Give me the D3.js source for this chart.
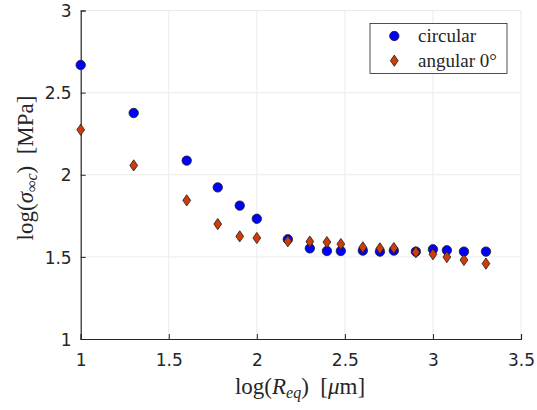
<!DOCTYPE html>
<html>
<head>
<meta charset="utf-8">
<script src="https://cdn.jsdelivr.net/npm/d3@7"></script>
<style>
  body { margin: 0; background: #fff; }
</style>
</head>
<body>
<div id="chart"></div>
<script>
// log10 of R_eq (um)
const logR = [1, 1.301, 1.602, 1.778, 1.903, 2, 2.176, 2.301, 2.398, 2.477,
              2.602, 2.699, 2.778, 2.903, 3, 3.079, 3.176, 3.301];
const circular = [2.668, 2.376, 2.086, 1.923, 1.812, 1.732, 1.607, 1.552, 1.536, 1.536,
                  1.538, 1.532, 1.538, 1.532, 1.546, 1.540, 1.532, 1.532];
const angular0 = [2.274, 2.057, 1.844, 1.700, 1.625, 1.615, 1.595, 1.593, 1.590, 1.578,
                  1.558, 1.552, 1.554, 1.528, 1.516, 1.499, 1.481, 1.459];
const xTicks = [1, 1.5, 2, 2.5, 3, 3.5];
const yTicks = [1, 1.5, 2, 2.5, 3];

const W = 537, H = 410;
const plotL = 80.7, plotR = 521, plotT = 10.5, plotB = 339;

const blue = "#0000ff", orange = "#cf3c0a";
const ink = "#262626";

const svg = d3.select("#chart").append("svg")
    .attr("width", W)
    .attr("height", H);

const x = d3.scaleLinear().domain([1, 3.5]).range([plotL, plotR]);
const y = d3.scaleLinear().domain([1, 3]).range([plotB, plotT]);

//grid
svg.append("g").selectAll("line").data(xTicks.slice(1)).join("line")
    .attr("x1", d => x(d)).attr("x2", d => x(d))
    .attr("y1", plotT).attr("y2", plotB)
    .attr("stroke", "#ebebeb").attr("stroke-width", 1);
svg.append("g").selectAll("line").data(yTicks.slice(1)).join("line")
    .attr("x1", plotL).attr("x2", plotR)
    .attr("y1", d => y(d)).attr("y2", d => y(d))
    .attr("stroke", "#ebebeb").attr("stroke-width", 1);

//axes (matlab style, ticks inside)
const xAxis = svg.append("g")
    .attr("transform", `translate(0,${plotB})`)
    .call(d3.axisBottom(x).tickValues(xTicks).tickSize(-5).tickPadding(15).tickFormat(d3.format("")));
const yAxis = svg.append("g")
    .attr("transform", `translate(${plotL},0)`)
    .call(d3.axisLeft(y).tickValues(yTicks).tickSize(-5).tickPadding(9).tickFormat(d3.format("")));

[xAxis, yAxis].forEach(a => {
    a.select(".domain").attr("stroke", ink).attr("stroke-width", 1.2);
    a.selectAll(".tick line").attr("stroke", ink);
    a.selectAll(".tick text")
        .attr("font-family", "'DejaVu Sans', sans-serif")
        .attr("font-size", 17)
        .attr("fill", ink);
});
xAxis.selectAll(".tick text").attr("dy", "0.71em");
yAxis.selectAll(".tick text").attr("dy", "0.36em");

//markers
const pts = logR.map((v, i) => ({ x: v, c: circular[i], a: angular0[i] }));

svg.append("g").selectAll("circle").data(pts).join("circle")
    .attr("cx", d => x(d.x))
    .attr("cy", d => y(d.c))
    .attr("r", 4.7)
    .attr("fill", blue)
    .attr("stroke", "#1a1a1a")
    .attr("stroke-width", 0.8);

const diamond = "M0,-5.6L3.9,0L0,5.6L-3.9,0Z";
svg.append("g").selectAll("path").data(pts).join("path")
    .attr("transform", d => `translate(${x(d.x)},${y(d.a)})`)
    .attr("d", diamond)
    .attr("fill", orange)
    .attr("stroke", "#1a1a1a")
    .attr("stroke-width", 0.8);

//axis labels
const serif = "'Liberation Serif', 'Times New Roman', serif";
const xl = svg.append("text")
    .attr("x", 300).attr("y", 394)
    .attr("text-anchor", "middle")
    .attr("font-family", serif)
    .attr("font-size", 23)
    .attr("fill", ink);
xl.append("tspan").text("log(");
xl.append("tspan").attr("font-style", "italic").text("R");
xl.append("tspan").attr("font-style", "italic").attr("font-size", 16).attr("dy", 4).text("eq");
xl.append("tspan").attr("dy", -4).text(")\u00a0\u00a0[");
xl.append("tspan").attr("font-style", "italic").text("\u03bc");
xl.append("tspan").text("m]");

const yl = svg.append("text")
    .attr("transform", `translate(33,168) rotate(-90)`)
    .attr("text-anchor", "middle")
    .attr("font-family", serif)
    .attr("font-size", 23)
    .attr("fill", ink);
yl.append("tspan").text("log(");
yl.append("tspan").attr("font-style", "italic").text("\u03c3");
yl.append("tspan").attr("font-style", "italic").attr("font-size", 16).attr("dy", 4).text("\u221ec");
yl.append("tspan").attr("dy", -4).text(")\u00a0\u00a0[MPa]");

//legend
const lg = svg.append("g");
lg.append("rect")
    .attr("x", 370).attr("y", 23.5)
    .attr("width", 137).attr("height", 50)
    .attr("fill", "#fff")
    .attr("stroke", ink)
    .attr("stroke-width", 0.8);
lg.append("circle")
    .attr("cx", 394.3).attr("cy", 36)
    .attr("r", 4.7)
    .attr("fill", blue).attr("stroke", "#1a1a1a").attr("stroke-width", 0.8);
lg.append("path")
    .attr("transform", "translate(394.3,60.7)")
    .attr("d", diamond)
    .attr("fill", orange).attr("stroke", "#1a1a1a").attr("stroke-width", 0.8);
lg.append("text")
    .attr("x", 418).attr("y", 42)
    .attr("font-family", serif).attr("font-size", 19)
    .attr("fill", ink)
    .text("circular");
lg.append("text")
    .attr("x", 418).attr("y", 66.5)
    .attr("font-family", serif).attr("font-size", 19)
    .attr("fill", ink)
    .text("angular 0\u00b0");
</script>
</body>
</html>
